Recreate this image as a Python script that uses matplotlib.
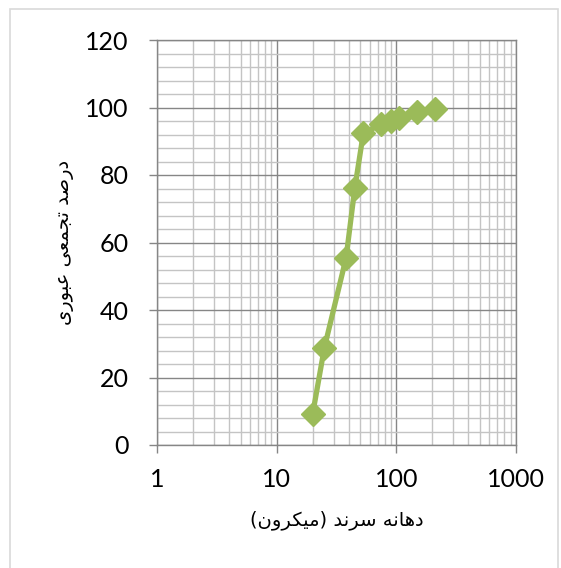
import numpy as np
import matplotlib
matplotlib.use("Agg")
import matplotlib.pyplot as plt
from matplotlib.ticker import LogLocator, MultipleLocator, FixedLocator, NullFormatter
from matplotlib.patches import Rectangle

# sieve opening (micron) and cumulative passing (%)
sizes = [20, 25, 38, 45, 53, 75, 90, 106, 150, 212]
passing = [9.2, 28.7, 55.4, 76.2, 92.4, 95.0, 96.0, 97.0, 98.7, 99.6]

x_ticks = [1, 10, 100, 1000]
x_tick_labels = ["1", "10", "100", "1000"]
y_ticks = [0, 20, 40, 60, 80, 100, 120]

# matplotlib has no Arabic shaping, so the labels are written with presentation
# forms in visual (left-to-right) order
def vis(*chars):
    return "".join(chr(c) for c in chars)

# دهانه سرند (میکرون)
w_dahane = vis(0xFEA9, 0xFEEB, 0xFE8E, 0xFEE7, 0xFEEA)
w_sarand = vis(0xFEB3, 0xFEAE, 0xFEE7, 0xFEAA)
w_micron = vis(0xFEE3, 0xFEF4, 0xFEDC, 0xFEAE, 0xFEED, 0xFEE5)
xlabel = "(" + w_micron[::-1] + ") " + w_sarand[::-1] + " " + w_dahane[::-1]

# درصد تجمعی عبوری
w_darsad = vis(0xFEA9, 0xFEAD, 0xFEBB, 0xFEAA)
w_tajamoi = vis(0xFE97, 0xFEA0, 0xFEE4, 0xFECC, 0xFEF0)
w_oburi = vis(0xFECB, 0xFE92, 0xFEEE, 0xFEAD, 0xFEEF)
ylabel = w_oburi[::-1] + " " + w_tajamoi[::-1] + " " + w_darsad[::-1]

GREEN = "#9BBB59"
MAJOR = "#868686"
MINOR = "#c4c4c4"

plt.rcParams["font.family"] = ["Lato", "DejaVu Sans"]

fig = plt.figure(figsize=(5.61, 5.68), dpi=100)
ax = fig.add_axes([157 / 561, 123 / 568, 359 / 561, 405 / 568])

ax.plot(sizes, passing, "-D", color=GREEN, lw=3.8, ms=12, zorder=3, clip_on=False)

ax.set_xscale("log")
ax.set_xlim(1, 1000)
ax.set_ylim(0, 120)
ax.xaxis.set_major_locator(FixedLocator(x_ticks))
ax.set_xticklabels(x_tick_labels)
ax.xaxis.set_minor_locator(LogLocator(base=10, subs=np.arange(2, 10)))
ax.xaxis.set_minor_formatter(NullFormatter())
ax.yaxis.set_major_locator(FixedLocator(y_ticks))
ax.yaxis.set_minor_locator(MultipleLocator(4))

ax.grid(which="major", color=MAJOR, lw=1.0, zorder=1)
ax.grid(which="minor", color=MINOR, lw=1.0, zorder=0)
ax.set_axisbelow(True)
for s in ax.spines.values():
    s.set_color(MAJOR)
    s.set_linewidth(1.0)

ax.tick_params(which="major", direction="out", length=5.5, width=1.0, color=MAJOR,
               labelsize=18, pad=11, colors="black")
ax.tick_params(axis="y", pad=15)
ax.tick_params(which="major", color=MAJOR)
ax.tick_params(which="minor", length=0)

ax.set_xlabel(xlabel, family="DejaVu Sans", fontsize=14, labelpad=14)
ax.set_ylabel(ylabel, family="DejaVu Sans", fontsize=14, labelpad=8)

# outer chart frame
fig.patches.append(Rectangle((9.5 / 561, -0.1), 548.5 / 561, 1.1 - 9.5 / 568,
                             transform=fig.transFigure, fill=False,
                             edgecolor="#d9d9d9", lw=1.2))

fig.savefig("out.png", dpi=100)
